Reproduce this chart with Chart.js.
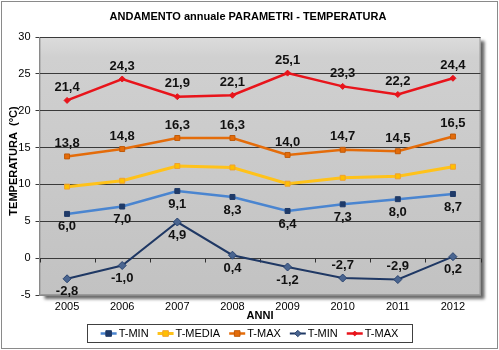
<!DOCTYPE html>
<html><head><meta charset="utf-8">
<script src="https://cdn.jsdelivr.net/npm/chart.js@4/dist/chart.umd.min.js"></script>
<style>html,body{margin:0;padding:0;background:#fff;}#wrap{width:499px;height:350px;}</style>
</head><body><div id="wrap"><canvas id="c" width="499" height="350"></canvas></div>
<script>
const years = ['2005','2006','2007','2008','2009','2010','2011','2012'];
const tMin = [6.0, 7.0, 9.1, 8.3, 6.4, 7.3, 8.0, 8.7];
const tMedia = [9.7, 10.5, 12.5, 12.3, 10.1, 10.9, 11.1, 12.4];
const tMax = [13.8, 14.8, 16.3, 16.3, 14.0, 14.7, 14.5, 16.5];
const tMinAbs = [-2.8, -1.0, 4.9, 0.4, -1.2, -2.7, -2.9, 0.2];
const tMaxAbs = [21.4, 24.3, 21.9, 22.1, 25.1, 23.3, 22.2, 24.4];
const seriesNames = ['T-MIN', 'T-MEDIA', 'T-MAX', 'T-MIN', 'T-MAX'];
const yMin = -5, yMax = 30, yStep = 5;

// label placement per dataset (-1 above, +1 below, 0 none)
const labelSides = [
  [1,1,1,1,1,1,1,1],
  null,
  [-1,-1,-1,-1,-1,-1,-1,-1],
  [1,1,1,1,1,-1,-1,1],
  [-1,-1,-1,-1,-1,-1,-1,-1]
];
const FONT = "'Liberation Sans', Arial, sans-serif";

const styles = [
  {line:'#4a85d0', fill:'#1f3a68', border:'#1f3a68', shape:'rect', r:3.5, w:2.5},
  {line:'#ffc21a', fill:'#ffc000', border:'#f0a030', shape:'rect', r:3.5, w:3},
  {line:'#e46c0a', fill:'#e46c0a', border:'#c05a08', shape:'rect', r:3.5, w:2.5},
  {line:'#1f3864', fill:'#4a6590', border:'#2a4470', shape:'rectRot', r:4, w:2},
  {line:'#e8141b', fill:'#e8141b', border:'#e8141b', shape:'rectRot', r:3, w:2.5}
];
const seriesData = [tMin, tMedia, tMax, tMinAbs, tMaxAbs];

const datasets = seriesData.map((d, i) => ({
  label: seriesNames[i],
  data: d,
  borderColor: styles[i].line,
  backgroundColor: styles[i].fill,
  pointBackgroundColor: styles[i].fill,
  pointBorderColor: styles[i].border,
  pointBorderWidth: 1,
  pointStyle: styles[i].shape,
  pointRadius: styles[i].r,
  borderWidth: styles[i].w,
  tension: 0,
  fill: false
}));

const fmt = v => v.toFixed(1).replace('.', ',');

const decor = {
  id: 'decor',
  beforeDraw(chart) {
    const ctx = chart.ctx, a = chart.chartArea;
    ctx.save();
    ctx.fillStyle = '#fff';
    ctx.fillRect(0, 0, chart.width, chart.height);
    ctx.strokeStyle = '#8a8a8a';
    ctx.lineWidth = 1;
    ctx.strokeRect(1.5, 1.5, chart.width - 3, chart.height - 3);
    ctx.save();
    ctx.shadowColor = 'rgba(0,0,0,0.6)';
    ctx.shadowOffsetX = 4; ctx.shadowOffsetY = 4; ctx.shadowBlur = 3;
    const g = ctx.createLinearGradient(0, a.top, 0, a.bottom);
    g.addColorStop(0, '#dcdcdc');
    g.addColorStop(0.08, '#d0d0d0');
    g.addColorStop(1, '#c2c2c2');
    ctx.fillStyle = g;
    ctx.fillRect(a.left, a.top, a.right - a.left, a.bottom - a.top);
    ctx.restore();
    ctx.strokeStyle = '#9a9a9a';
    ctx.strokeRect(a.left + 0.5, a.top + 0.5, a.right - a.left - 1, a.bottom - a.top - 1);
    ctx.fillStyle = '#000';
    ctx.textAlign = 'center'; ctx.textBaseline = 'middle';
    ctx.font = 'bold 11px ' + FONT;
    ctx.fillText('ANDAMENTO annuale PARAMETRI - TEMPERATURA', 248, 17);
    ctx.fillText('ANNI', (a.left + a.right) / 2, 316);
    ctx.save();
    ctx.translate(14, 161);
    ctx.rotate(-Math.PI / 2);
    ctx.font = 'bold 11px ' + FONT;
    ctx.fillText('TEMPERATURA  (°C)', 0, 0);
    ctx.restore();
    ctx.restore();
  },
  beforeDatasetsDraw(chart) {
    const ctx = chart.ctx, xs = chart.scales.x, ys = chart.scales.y;
    const y0 = Math.round(ys.getPixelForValue(0)) + 0.5;
    ctx.save();
    ctx.strokeStyle = '#303030'; ctx.lineWidth = 1;
    ctx.beginPath();
    const half = (xs.getPixelForValue(1) - xs.getPixelForValue(0)) / 2;
    for (let i = 0; i <= years.length; i++) {
      const x = Math.round(xs.getPixelForValue(0) - half + i * half * 2) + 0.5;
      ctx.moveTo(x, y0); ctx.lineTo(x, y0 + 4);
    }
    ctx.stroke();
    ctx.restore();
  },
  afterDatasetsDraw(chart) {
    const ctx = chart.ctx;
    ctx.save();
    ctx.font = 'bold 13px ' + FONT;
    ctx.fillStyle = '#111';
    ctx.textAlign = 'center'; ctx.textBaseline = 'middle';
    chart.data.datasets.forEach((ds, di) => {
      const sides = labelSides[di];
      if (!sides) return;
      const meta = chart.getDatasetMeta(di);
      meta.data.forEach((pt, i) => {
        if (!sides[i]) return;
        ctx.fillText(fmt(ds.data[i]), pt.x, pt.y + sides[i] * 13);
      });
    });
    ctx.restore();
  },
  afterDraw(chart) {
    const ctx = chart.ctx;
    ctx.save();
    const bx = 87, by = 324, bw = 325, bh = 18;
    ctx.strokeStyle = '#404040'; ctx.lineWidth = 1;
    ctx.strokeRect(bx + 0.5, by + 0.5, bw, bh);
    ctx.font = '11px ' + FONT;
    ctx.textBaseline = 'middle'; ctx.textAlign = 'left';
    const iconW = 16, gapA = 2, gapB = 9;
    let total = 0;
    const widths = seriesNames.map(n => ctx.measureText(n).width);
    widths.forEach((w, i) => { total += iconW + gapA + w + (i < widths.length - 1 ? gapB : 0); });
    let x = bx + (bw - total) / 2;
    const cy = by + bh / 2 + 0.5;
    seriesNames.forEach((n, i) => {
      const s = styles[i];
      ctx.strokeStyle = s.line; ctx.lineWidth = s.w;
      ctx.beginPath(); ctx.moveTo(x, cy); ctx.lineTo(x + iconW, cy); ctx.stroke();
      const r = s.r * 0.8;
      ctx.fillStyle = s.fill; ctx.strokeStyle = s.border; ctx.lineWidth = 1;
      ctx.beginPath();
      if (s.shape === 'rect') { ctx.rect(x + iconW / 2 - r, cy - r, r * 2, r * 2); }
      else { ctx.moveTo(x + iconW / 2, cy - r); ctx.lineTo(x + iconW / 2 + r, cy); ctx.lineTo(x + iconW / 2, cy + r); ctx.lineTo(x + iconW / 2 - r, cy); ctx.closePath(); }
      ctx.fill(); ctx.stroke();
      ctx.fillStyle = '#000';
      ctx.fillText(n, x + iconW + gapA, cy);
      x += iconW + gapA + widths[i] + gapB;
    });
    ctx.restore();
  }
};

new Chart(document.getElementById('c'), {
  type: 'line',
  data: { labels: years, datasets },
  options: {
    responsive: false,
    animation: false,
    devicePixelRatio: 1,
    layout: { padding: { top: 37, right: 18.5, bottom: 0, left: 0 } },
    plugins: { legend: { display: false }, title: { display: false }, tooltip: { enabled: false } },
    scales: {
      x: {
        offset: true,
        grid: { display: false, drawTicks: false },
        border: { color: '#8a8a8a' },
        ticks: { color: '#000', font: { family: FONT, size: 11 }, padding: 5, maxRotation: 0 },
        afterFit(s) { s.height = 55; }
      },
      y: {
        min: yMin, max: yMax,
        ticks: { stepSize: yStep, color: '#000', font: { family: FONT, size: 11 }, padding: 5 },
        grid: { color: '#3a3a3a', tickLength: 4, tickColor: '#3a3a3a' },
        border: { color: '#8a8a8a' },
        afterFit(s) { s.width = 39.5; }
      }
    }
  },
  plugins: [decor]
});
</script></body></html>
